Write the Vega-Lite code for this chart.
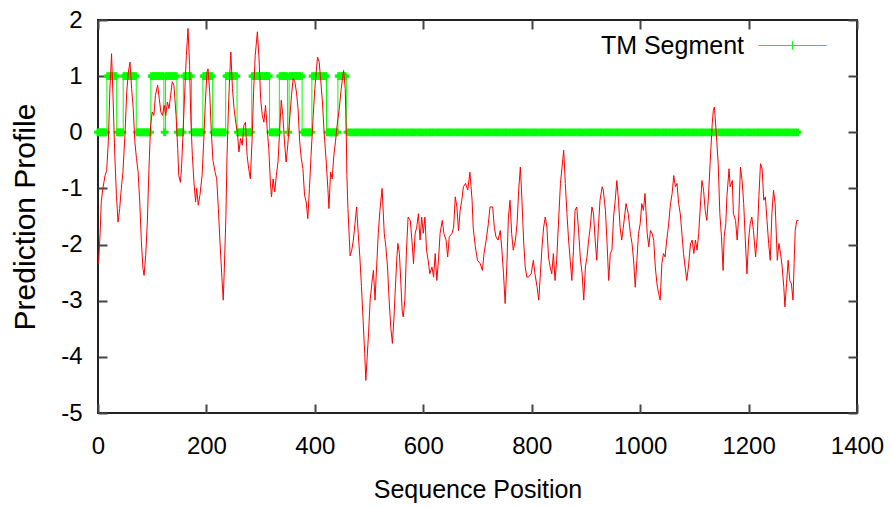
{
"$schema":"https://vega.github.io/schema/vega-lite/v6.json",
"width":759,"height":393,
"autosize":{"type":"none"},
"padding":{"left":98,"top":20,"right":34,"bottom":94},
"background":"white",
"config":{
"view":{"stroke":"#222","strokeWidth":2},
"axis":{"domain":false,"grid":false,"tickSize":-9,"tickWidth":2,"tickColor":"#444","labelFont":"Liberation Sans","labelFontSize":24,"labelColor":"#000","titleColor":"#000","titleFontWeight":"normal","labelFlush":false,"labelOverlap":false,"labelExpr":"datum.value + ''"}
},
"datasets":{
"profile":[
{"p":1,"v":-2.34},{"p":4,"v":-1.78},{"p":6,"v":-1.24},{"p":9,"v":-1.00},{"p":13,"v":-0.77},{"p":16,"v":-0.68},{"p":19,"v":-0.17},{"p":22,"v":0.78},{"p":25,"v":1.40},{"p":28,"v":0.54},{"p":31,"v":-0.41},{"p":34,"v":-1.12},{"p":37,"v":-1.60},{"p":40,"v":-1.36},{"p":43,"v":-1.00},{"p":46,"v":-0.71},{"p":50,"v":0.01},{"p":53,"v":0.72},{"p":56,"v":1.07},{"p":59,"v":1.25},{"p":62,"v":0.78},{"p":65,"v":0.42},{"p":68,"v":-0.17},{"p":71,"v":-0.47},{"p":74,"v":-0.71},{"p":77,"v":-1.24},{"p":80,"v":-1.95},{"p":83,"v":-2.43},{"p":85,"v":-2.55},{"p":88,"v":-2.19},{"p":91,"v":-1.60},{"p":94,"v":-0.65},{"p":97,"v":0.12},{"p":100,"v":0.36},{"p":103,"v":0.30},{"p":106,"v":0.66},{"p":110,"v":0.84},{"p":113,"v":0.60},{"p":116,"v":0.36},{"p":119,"v":0.30},{"p":122,"v":0.48},{"p":125,"v":0.30},{"p":128,"v":0.54},{"p":131,"v":0.42},{"p":134,"v":0.66},{"p":137,"v":0.90},{"p":140,"v":0.84},{"p":144,"v":0.30},{"p":147,"v":-0.29},{"p":149,"v":-0.77},{"p":152,"v":-0.89},{"p":154,"v":-0.65},{"p":157,"v":0.01},{"p":160,"v":0.72},{"p":163,"v":1.37},{"p":166,"v":1.85},{"p":169,"v":1.19},{"p":171,"v":0.30},{"p":174,"v":-0.41},{"p":177,"v":-0.89},{"p":180,"v":-1.24},{"p":182,"v":-1.00},{"p":185,"v":-1.30},{"p":188,"v":-1.12},{"p":192,"v":-0.77},{"p":195,"v":-0.17},{"p":198,"v":0.54},{"p":201,"v":1.07},{"p":203,"v":1.13},{"p":206,"v":0.72},{"p":209,"v":0.01},{"p":212,"v":-0.50},{"p":216,"v":-0.71},{"p":219,"v":-0.83},{"p":222,"v":-1.36},{"p":225,"v":-1.95},{"p":228,"v":-2.49},{"p":231,"v":-2.99},{"p":233,"v":-2.43},{"p":236,"v":-1.48},{"p":238,"v":-0.41},{"p":241,"v":0.54},{"p":243,"v":1.02},{"p":245,"v":1.43},{"p":248,"v":0.78},{"p":251,"v":0.42},{"p":254,"v":0.18},{"p":257,"v":0.01},{"p":260,"v":-0.35},{"p":263,"v":-0.11},{"p":266,"v":-0.23},{"p":269,"v":0.12},{"p":272,"v":0.18},{"p":275,"v":-0.41},{"p":278,"v":-0.65},{"p":281,"v":-0.83},{"p":284,"v":-0.17},{"p":287,"v":0.72},{"p":290,"v":1.37},{"p":294,"v":1.79},{"p":297,"v":1.31},{"p":300,"v":0.60},{"p":303,"v":0.30},{"p":306,"v":0.18},{"p":309,"v":0.48},{"p":312,"v":0.07},{"p":315,"v":-0.29},{"p":318,"v":-0.89},{"p":320,"v":-1.15},{"p":323,"v":-0.83},{"p":326,"v":-1.06},{"p":329,"v":-0.77},{"p":332,"v":-0.53},{"p":335,"v":0.01},{"p":338,"v":0.57},{"p":341,"v":0.30},{"p":344,"v":-0.17},{"p":347,"v":-0.53},{"p":350,"v":-0.23},{"p":354,"v":0.30},{"p":357,"v":0.66},{"p":360,"v":0.96},{"p":363,"v":0.90},{"p":366,"v":0.72},{"p":369,"v":0.42},{"p":372,"v":-0.17},{"p":375,"v":-0.47},{"p":378,"v":-0.65},{"p":381,"v":-1.12},{"p":384,"v":-1.24},{"p":387,"v":-1.54},{"p":390,"v":-1.00},{"p":393,"v":-0.41},{"p":397,"v":0.30},{"p":400,"v":0.78},{"p":403,"v":1.13},{"p":405,"v":1.34},{"p":408,"v":1.25},{"p":411,"v":0.90},{"p":414,"v":0.54},{"p":417,"v":0.01},{"p":421,"v":-0.53},{"p":424,"v":-1.00},{"p":426,"v":-1.36},{"p":429,"v":-0.71},{"p":432,"v":-0.83},{"p":435,"v":-0.41},{"p":438,"v":-0.17},{"p":441,"v":0.12},{"p":445,"v":0.42},{"p":448,"v":0.72},{"p":451,"v":0.96},{"p":453,"v":1.10},{"p":456,"v":0.78},{"p":458,"v":-0.05},{"p":459,"v":-0.77},{"p":461,"v":-1.36},{"p":465,"v":-2.20},{"p":468,"v":-2.10},{"p":471,"v":-1.92},{"p":474,"v":-1.63},{"p":477,"v":-1.33},{"p":480,"v":-1.80},{"p":483,"v":-2.22},{"p":486,"v":-2.75},{"p":489,"v":-3.35},{"p":492,"v":-3.94},{"p":494,"v":-4.42},{"p":499,"v":-3.59},{"p":502,"v":-2.99},{"p":505,"v":-2.70},{"p":508,"v":-2.46},{"p":511,"v":-2.99},{"p":513,"v":-2.58},{"p":517,"v":-1.80},{"p":520,"v":-1.39},{"p":524,"v":-1.00},{"p":528,"v":-1.80},{"p":531,"v":-2.04},{"p":534,"v":-2.40},{"p":537,"v":-2.99},{"p":540,"v":-3.47},{"p":543,"v":-3.76},{"p":546,"v":-3.29},{"p":548,"v":-2.87},{"p":551,"v":-2.28},{"p":553,"v":-1.98},{"p":556,"v":-2.16},{"p":559,"v":-2.76},{"p":561,"v":-3.17},{"p":563,"v":-3.29},{"p":566,"v":-2.99},{"p":569,"v":-2.10},{"p":572,"v":-1.51},{"p":576,"v":-1.57},{"p":579,"v":-1.92},{"p":582,"v":-2.34},{"p":585,"v":-1.80},{"p":588,"v":-1.69},{"p":591,"v":-1.45},{"p":594,"v":-1.92},{"p":597,"v":-1.51},{"p":600,"v":-1.80},{"p":603,"v":-1.51},{"p":606,"v":-2.10},{"p":609,"v":-2.28},{"p":612,"v":-2.52},{"p":616,"v":-2.40},{"p":619,"v":-2.58},{"p":622,"v":-2.16},{"p":625,"v":-2.64},{"p":628,"v":-2.28},{"p":631,"v":-1.80},{"p":635,"v":-1.57},{"p":638,"v":-1.80},{"p":642,"v":-1.92},{"p":645,"v":-2.22},{"p":648,"v":-1.86},{"p":653,"v":-1.80},{"p":656,"v":-1.69},{"p":659,"v":-1.15},{"p":662,"v":-1.33},{"p":665,"v":-1.75},{"p":668,"v":-1.39},{"p":671,"v":-1.21},{"p":674,"v":-0.97},{"p":678,"v":-0.91},{"p":682,"v":-1.03},{"p":686,"v":-0.71},{"p":690,"v":-1.21},{"p":692,"v":-1.69},{"p":696,"v":-2.04},{"p":700,"v":-2.28},{"p":705,"v":-2.34},{"p":709,"v":-2.46},{"p":712,"v":-2.16},{"p":716,"v":-1.92},{"p":720,"v":-1.63},{"p":723,"v":-1.33},{"p":728,"v":-1.33},{"p":731,"v":-1.69},{"p":734,"v":-1.86},{"p":738,"v":-1.92},{"p":742,"v":-1.75},{"p":745,"v":-2.10},{"p":748,"v":-2.52},{"p":751,"v":-3.05},{"p":754,"v":-2.40},{"p":757,"v":-1.51},{"p":760,"v":-1.21},{"p":763,"v":-1.80},{"p":766,"v":-2.10},{"p":770,"v":-1.92},{"p":773,"v":-1.63},{"p":776,"v":-1.03},{"p":779,"v":-0.62},{"p":782,"v":-1.21},{"p":785,"v":-1.92},{"p":788,"v":-2.40},{"p":791,"v":-2.58},{"p":794,"v":-2.58},{"p":799,"v":-2.52},{"p":803,"v":-2.28},{"p":806,"v":-2.52},{"p":810,"v":-2.76},{"p":813,"v":-2.99},{"p":816,"v":-2.52},{"p":819,"v":-2.04},{"p":822,"v":-1.69},{"p":825,"v":-1.51},{"p":828,"v":-1.69},{"p":831,"v":-2.22},{"p":834,"v":-2.40},{"p":837,"v":-2.52},{"p":840,"v":-2.16},{"p":843,"v":-2.64},{"p":846,"v":-2.28},{"p":849,"v":-1.69},{"p":853,"v":-0.91},{"p":856,"v":-0.62},{"p":859,"v":-0.32},{"p":862,"v":-0.91},{"p":865,"v":-1.45},{"p":868,"v":-1.92},{"p":871,"v":-2.28},{"p":874,"v":-2.64},{"p":877,"v":-2.10},{"p":880,"v":-1.39},{"p":883,"v":-1.33},{"p":886,"v":-1.69},{"p":890,"v":-2.28},{"p":893,"v":-2.52},{"p":896,"v":-2.99},{"p":899,"v":-2.40},{"p":902,"v":-2.22},{"p":905,"v":-1.92},{"p":908,"v":-1.69},{"p":911,"v":-1.33},{"p":914,"v":-1.45},{"p":917,"v":-1.92},{"p":920,"v":-2.28},{"p":923,"v":-1.69},{"p":926,"v":-1.21},{"p":930,"v":-0.97},{"p":932,"v":-1.03},{"p":936,"v":-1.39},{"p":939,"v":-1.98},{"p":942,"v":-2.64},{"p":945,"v":-2.16},{"p":948,"v":-2.10},{"p":951,"v":-1.51},{"p":954,"v":-1.21},{"p":957,"v":-0.86},{"p":960,"v":-1.21},{"p":963,"v":-1.69},{"p":966,"v":-1.92},{"p":969,"v":-1.69},{"p":974,"v":-1.27},{"p":978,"v":-1.45},{"p":982,"v":-1.80},{"p":985,"v":-1.98},{"p":988,"v":-2.28},{"p":991,"v":-2.76},{"p":994,"v":-2.28},{"p":997,"v":-1.80},{"p":1000,"v":-1.63},{"p":1003,"v":-1.27},{"p":1006,"v":-1.39},{"p":1009,"v":-1.09},{"p":1013,"v":-1.80},{"p":1016,"v":-2.04},{"p":1019,"v":-1.75},{"p":1022,"v":-1.80},{"p":1025,"v":-1.92},{"p":1028,"v":-2.40},{"p":1031,"v":-2.70},{"p":1034,"v":-2.87},{"p":1037,"v":-2.99},{"p":1040,"v":-2.34},{"p":1043,"v":-2.16},{"p":1046,"v":-2.22},{"p":1049,"v":-1.92},{"p":1052,"v":-1.69},{"p":1056,"v":-1.27},{"p":1059,"v":-1.09},{"p":1062,"v":-0.77},{"p":1065,"v":-0.97},{"p":1068,"v":-0.91},{"p":1071,"v":-1.27},{"p":1074,"v":-1.45},{"p":1077,"v":-1.80},{"p":1080,"v":-2.16},{"p":1083,"v":-2.40},{"p":1086,"v":-2.64},{"p":1089,"v":-2.40},{"p":1093,"v":-1.98},{"p":1096,"v":-1.92},{"p":1099,"v":-2.16},{"p":1102,"v":-1.92},{"p":1105,"v":-2.10},{"p":1108,"v":-1.80},{"p":1111,"v":-1.33},{"p":1114,"v":-0.86},{"p":1117,"v":-1.03},{"p":1120,"v":-1.39},{"p":1123,"v":-1.57},{"p":1126,"v":-1.15},{"p":1129,"v":-0.56},{"p":1133,"v":0.16},{"p":1135,"v":0.39},{"p":1137,"v":0.45},{"p":1140,"v":0.04},{"p":1144,"v":-0.56},{"p":1147,"v":-1.45},{"p":1150,"v":-1.86},{"p":1153,"v":-2.46},{"p":1155,"v":-1.86},{"p":1158,"v":-1.63},{"p":1160,"v":-1.15},{"p":1164,"v":-0.65},{"p":1166,"v":-0.97},{"p":1170,"v":-0.86},{"p":1172,"v":-1.45},{"p":1176,"v":-1.57},{"p":1179,"v":-1.92},{"p":1182,"v":-1.45},{"p":1185,"v":-0.62},{"p":1188,"v":-0.86},{"p":1191,"v":-1.27},{"p":1194,"v":-1.92},{"p":1197,"v":-2.52},{"p":1200,"v":-1.92},{"p":1203,"v":-1.63},{"p":1206,"v":-1.51},{"p":1209,"v":-1.75},{"p":1213,"v":-2.22},{"p":1216,"v":-1.86},{"p":1219,"v":-1.15},{"p":1222,"v":-0.56},{"p":1225,"v":-0.65},{"p":1228,"v":-1.21},{"p":1231,"v":-1.15},{"p":1234,"v":-1.57},{"p":1237,"v":-1.98},{"p":1240,"v":-2.28},{"p":1243,"v":-1.45},{"p":1246,"v":-1.03},{"p":1249,"v":-1.27},{"p":1253,"v":-2.28},{"p":1256,"v":-1.98},{"p":1259,"v":-2.16},{"p":1262,"v":-2.40},{"p":1265,"v":-2.76},{"p":1267,"v":-3.11},{"p":1270,"v":-2.70},{"p":1273,"v":-2.28},{"p":1276,"v":-2.64},{"p":1279,"v":-2.70},{"p":1282,"v":-2.99},{"p":1284,"v":-2.34},{"p":1286,"v":-1.75},{"p":1289,"v":-1.57},{"p":1292,"v":-1.57}
],
"tm":[
{"p":0,"v":0},{"p":3,"v":0},{"p":6,"v":0},{"p":9,"v":0},{"p":12,"v":0},{"p":15,"v":0},
{"p":18,"v":1},{"p":21,"v":1},{"p":24,"v":1},{"p":27,"v":1},{"p":30,"v":1},{"p":33,"v":1},
{"p":36,"v":0},{"p":39,"v":0},{"p":42,"v":0},{"p":45,"v":0},
{"p":48,"v":1},{"p":51,"v":1},{"p":54,"v":1},{"p":57,"v":1},{"p":60,"v":1},{"p":63,"v":1},{"p":66,"v":1},{"p":69,"v":1},
{"p":72,"v":0},{"p":75,"v":0},{"p":78,"v":0},{"p":81,"v":0},{"p":84,"v":0},{"p":87,"v":0},{"p":90,"v":0},{"p":93,"v":0},{"p":96,"v":0},
{"p":99,"v":1},{"p":102,"v":1},{"p":105,"v":1},{"p":108,"v":1},{"p":111,"v":1},{"p":114,"v":1},{"p":117,"v":1},{"p":120,"v":1},
{"p":123,"v":0},
{"p":126,"v":1},{"p":129,"v":1},{"p":132,"v":1},{"p":135,"v":1},{"p":138,"v":1},{"p":141,"v":1},{"p":144,"v":1},
{"p":147,"v":0},{"p":150,"v":0},{"p":153,"v":0},{"p":156,"v":0},
{"p":159,"v":1},{"p":162,"v":1},{"p":165,"v":1},{"p":168,"v":1},{"p":171,"v":1},
{"p":174,"v":0},{"p":177,"v":0},{"p":180,"v":0},{"p":183,"v":0},{"p":186,"v":0},{"p":189,"v":0},{"p":192,"v":0},
{"p":195,"v":1},{"p":198,"v":1},{"p":201,"v":1},{"p":204,"v":1},{"p":207,"v":1},{"p":210,"v":1},
{"p":213,"v":0},{"p":216,"v":0},{"p":219,"v":0},{"p":222,"v":0},{"p":225,"v":0},{"p":228,"v":0},{"p":231,"v":0},{"p":234,"v":0},
{"p":237,"v":1},{"p":240,"v":1},{"p":243,"v":1},{"p":246,"v":1},{"p":249,"v":1},{"p":252,"v":1},{"p":255,"v":1},
{"p":258,"v":0},{"p":261,"v":0},{"p":264,"v":0},{"p":267,"v":0},{"p":270,"v":0},{"p":273,"v":0},{"p":276,"v":0},{"p":279,"v":0},{"p":282,"v":0},
{"p":285,"v":1},{"p":288,"v":1},{"p":291,"v":1},{"p":294,"v":1},{"p":297,"v":1},{"p":300,"v":1},{"p":303,"v":1},{"p":306,"v":1},{"p":309,"v":1},{"p":312,"v":1},{"p":315,"v":1},
{"p":318,"v":0},{"p":321,"v":0},{"p":324,"v":0},{"p":327,"v":0},{"p":330,"v":0},{"p":333,"v":0},
{"p":336,"v":1},{"p":339,"v":1},{"p":342,"v":1},{"p":345,"v":1},{"p":348,"v":1},
{"p":351,"v":0},
{"p":354,"v":1},{"p":357,"v":1},{"p":360,"v":1},{"p":363,"v":1},{"p":366,"v":1},{"p":369,"v":1},{"p":372,"v":1},{"p":375,"v":1},
{"p":378,"v":0},{"p":381,"v":0},{"p":384,"v":0},{"p":387,"v":0},{"p":390,"v":0},{"p":393,"v":0},
{"p":396,"v":1},{"p":399,"v":1},{"p":402,"v":1},{"p":405,"v":1},{"p":408,"v":1},{"p":411,"v":1},{"p":414,"v":1},{"p":417,"v":1},{"p":420,"v":1},
{"p":423,"v":0},{"p":426,"v":0},{"p":429,"v":0},{"p":432,"v":0},{"p":435,"v":0},{"p":438,"v":0},{"p":441,"v":0},
{"p":444,"v":1},{"p":447,"v":1},{"p":450,"v":1},{"p":453,"v":1},{"p":456,"v":1},
{"p":460,"v":0},{"p":465,"v":0},{"p":470,"v":0},{"p":475,"v":0},{"p":480,"v":0},{"p":485,"v":0},{"p":490,"v":0},{"p":495,"v":0},{"p":500,"v":0},{"p":505,"v":0},{"p":510,"v":0},{"p":515,"v":0},{"p":520,"v":0},{"p":525,"v":0},{"p":530,"v":0},{"p":535,"v":0},{"p":540,"v":0},{"p":545,"v":0},{"p":550,"v":0},{"p":555,"v":0},{"p":560,"v":0},{"p":565,"v":0},{"p":570,"v":0},{"p":575,"v":0},{"p":580,"v":0},{"p":585,"v":0},{"p":590,"v":0},{"p":595,"v":0},{"p":600,"v":0},{"p":605,"v":0},{"p":610,"v":0},{"p":615,"v":0},{"p":620,"v":0},{"p":625,"v":0},{"p":630,"v":0},{"p":635,"v":0},{"p":640,"v":0},{"p":645,"v":0},{"p":650,"v":0},{"p":655,"v":0},{"p":660,"v":0},{"p":665,"v":0},{"p":670,"v":0},{"p":675,"v":0},{"p":680,"v":0},{"p":685,"v":0},{"p":690,"v":0},{"p":695,"v":0},{"p":700,"v":0},{"p":705,"v":0},{"p":710,"v":0},{"p":715,"v":0},{"p":720,"v":0},{"p":725,"v":0},{"p":730,"v":0},{"p":735,"v":0},{"p":740,"v":0},{"p":745,"v":0},{"p":750,"v":0},{"p":755,"v":0},{"p":760,"v":0},{"p":765,"v":0},{"p":770,"v":0},{"p":775,"v":0},{"p":780,"v":0},{"p":785,"v":0},{"p":790,"v":0},{"p":795,"v":0},{"p":800,"v":0},{"p":805,"v":0},{"p":810,"v":0},{"p":815,"v":0},{"p":820,"v":0},{"p":825,"v":0},{"p":830,"v":0},{"p":835,"v":0},{"p":840,"v":0},{"p":845,"v":0},{"p":850,"v":0},{"p":855,"v":0},{"p":860,"v":0},{"p":865,"v":0},{"p":870,"v":0},{"p":875,"v":0},{"p":880,"v":0},{"p":885,"v":0},{"p":890,"v":0},{"p":895,"v":0},{"p":900,"v":0},{"p":905,"v":0},{"p":910,"v":0},{"p":915,"v":0},{"p":920,"v":0},{"p":925,"v":0},{"p":930,"v":0},{"p":935,"v":0},{"p":940,"v":0},{"p":945,"v":0},{"p":950,"v":0},{"p":955,"v":0},{"p":960,"v":0},{"p":965,"v":0},{"p":970,"v":0},{"p":975,"v":0},{"p":980,"v":0},{"p":985,"v":0},{"p":990,"v":0},{"p":995,"v":0},{"p":1000,"v":0},{"p":1005,"v":0},{"p":1010,"v":0},{"p":1015,"v":0},{"p":1020,"v":0},{"p":1025,"v":0},{"p":1030,"v":0},{"p":1035,"v":0},{"p":1040,"v":0},{"p":1045,"v":0},{"p":1050,"v":0},{"p":1055,"v":0},{"p":1060,"v":0},{"p":1065,"v":0},{"p":1070,"v":0},{"p":1075,"v":0},{"p":1080,"v":0},{"p":1085,"v":0},{"p":1090,"v":0},{"p":1095,"v":0},{"p":1100,"v":0},{"p":1105,"v":0},{"p":1110,"v":0},{"p":1115,"v":0},{"p":1120,"v":0},{"p":1125,"v":0},{"p":1130,"v":0},{"p":1135,"v":0},{"p":1140,"v":0},{"p":1145,"v":0},{"p":1150,"v":0},{"p":1155,"v":0},{"p":1160,"v":0},{"p":1165,"v":0},{"p":1170,"v":0},{"p":1175,"v":0},{"p":1180,"v":0},{"p":1185,"v":0},{"p":1190,"v":0},{"p":1195,"v":0},{"p":1200,"v":0},{"p":1205,"v":0},{"p":1210,"v":0},{"p":1215,"v":0},{"p":1220,"v":0},{"p":1225,"v":0},{"p":1230,"v":0},{"p":1235,"v":0},{"p":1240,"v":0},{"p":1245,"v":0},{"p":1250,"v":0},{"p":1255,"v":0},{"p":1260,"v":0},{"p":1265,"v":0},{"p":1270,"v":0},{"p":1275,"v":0},{"p":1280,"v":0},{"p":1285,"v":0},{"p":1290,"v":0}
]
},
"layer":[
{"data":{"name":"tm"},
"mark":{"type":"line","interpolate":"step","color":"#00ff00","strokeWidth":1},
"encoding":{
"x":{"field":"p","type":"quantitative","scale":{"domain":[0,1400],"nice":false,"zero":false},"axis":{"orient":"top","labels":false,"title":null,"values":[0,200,400,600,800,1000,1200,1400]}},
"y":{"field":"v","type":"quantitative","scale":{"domain":[-5,2],"nice":false,"zero":false},"axis":{"orient":"right","labels":false,"title":null,"values":[-5,-4,-3,-2,-1,0,1,2]}}
}},
{"data":{"name":"tm"},
"mark":{"type":"point","shape":"cross","filled":true,"size":60,"opacity":1},
"encoding":{
"x":{"field":"p","type":"quantitative","axis":null},
"y":{"field":"v","type":"quantitative","axis":null},
"color":{"datum":"TM Segment","type":"nominal","scale":{"range":["#00ff00"]},
"legend":{"title":null,"orient":"none","legendX":660,"legendY":-9,"padding":0,"symbolType":"M-1,0H1M0,-0.12V0.12","symbolSize":4624,"symbolStrokeWidth":1,"symbolStrokeColor":"#00ff00","symbolFillColor":"transparent","labelFont":"Liberation Sans","labelFontSize":25,"labelColor":"#000","labelAlign":"right","labelOffset":-83,"labelLimit":400,
"encode":{"symbols":{"update":{"stroke":{"value":"#00ff00"},"fill":{"value":"transparent"},"strokeWidth":{"value":1},"opacity":{"value":1}}}}}}
}},
{"data":{"name":"profile"},
"mark":{"type":"line","color":"#ff0000","strokeWidth":1},
"encoding":{
"x":{"field":"p","type":"quantitative","axis":{"orient":"bottom","values":[0,200,400,600,800,1000,1200,1400],"labelPadding":30,"title":"Sequence Position","titleFont":"Liberation Sans","titleFontSize":25,"titlePadding":19}},
"y":{"field":"v","type":"quantitative","axis":{"orient":"left","values":[-5,-4,-3,-2,-1,0,1,2],"labelPadding":25,"title":"Prediction Profile","titleFont":"Liberation Sans","titleFontSize":30,"titlePadding":20}}
}}
],
"resolve":{"axis":{"x":"independent","y":"independent"}}
}
